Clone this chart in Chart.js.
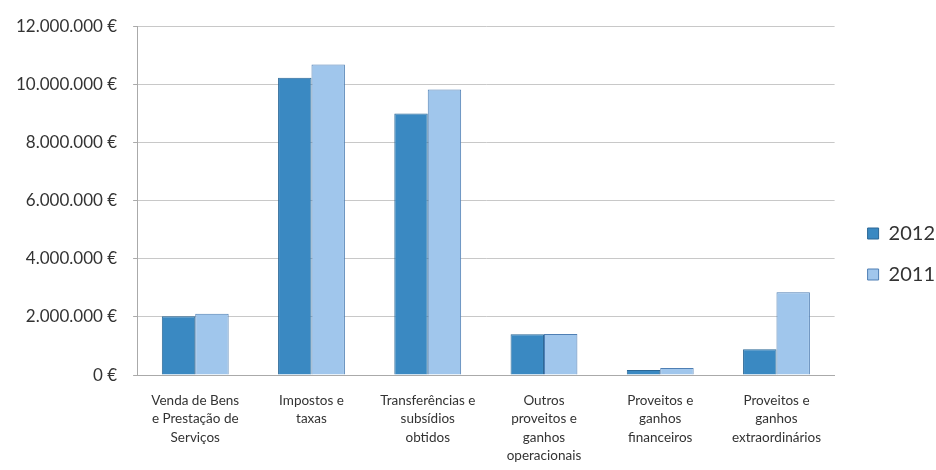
<!DOCTYPE html>
<html lang="pt">
<head>
    <meta charset="UTF-8">
    <title>Proveitos 2012 / 2011</title>
    <style>
        html, body { margin: 0; padding: 0; background: #fff; }
        #wrap { width: 936px; height: 470px; }
    </style>
</head>
<body>
    <div id="wrap"><canvas id="myChart" width="936" height="470"></canvas></div>

    <script src="https://cdn.jsdelivr.net/npm/chart.js@4.4.1/dist/chart.umd.min.js"></script>
    <script>
        // categories (multi-line as in the original)
        var categories = [
            ["Venda de Bens", "e Prestação de", "Serviços"],
            ["Impostos e", "taxas"],
            ["Transferências e", "subsídios", "obtidos"],
            ["Outros", "proveitos e", "ganhos", "operacionais"],
            ["Proveitos e", "ganhos", "financeiros"],
            ["Proveitos e", "ganhos", "extraordinários"]
        ];

        // values (euros)
        var values2012 = [2020000, 10230000, 9000000, 1400000, 170000, 890000];
        var values2011 = [2110000, 10680000, 9820000, 1410000, 240000, 2850000];

        var seriesLabels = ["2012", "2011"];

        function euro(v) {
            return String(v).replace(/\B(?=(\d{3})+(?!\d))/g, ".") + " €";
        }

        // nudge the legend a bit lower / further right, like the original
        var legendNudge = {
            id: "legendNudge",
            afterLayout: function (chart) {
                var lg = chart.legend;
                lg.top += 5; lg.bottom += 5;
                lg.left += 12; lg.right += 12;
            }
        };

        var ctx = document.getElementById("myChart").getContext("2d");
        var chart = new Chart(ctx, {
            type: "bar",
            data: {
                labels: categories,
                datasets: [
                    {
                        label: seriesLabels[0],
                        data: values2012,
                        backgroundColor: "#3a89c2",
                        borderColor: "#2a6796",
                        borderWidth: 1
                    },
                    {
                        label: seriesLabels[1],
                        data: values2011,
                        backgroundColor: "#a0c6ec",
                        borderColor: "#4f7fb4",
                        borderWidth: 1
                    }
                ]
            },
            plugins: [legendNudge],
            options: {
                responsive: false,
                animation: false,
                layout: { padding: { top: 17, left: 0, right: 3, bottom: -11 } },
                datasets: { bar: { barPercentage: 1, categoryPercentage: 0.575 } },
                plugins: {
                    tooltip: { enabled: false },
                    legend: {
                        position: "right",
                        labels: {
                            boxWidth: 11,
                            boxHeight: 11,
                            padding: 21,
                            color: "#333",
                            font: { family: "Lato", size: 20 }
                        }
                    }
                },
                scales: {
                    x: {
                        grid: { display: false, drawTicks: false },
                        border: { color: "#aaa" },
                        ticks: {
                            maxRotation: 0,
                            autoSkip: false,
                            padding: 16,
                            color: "#333",
                            font: { family: "Lato", size: 13.5, lineHeight: 1.37 }
                        }
                    },
                    y: {
                        min: 0,
                        max: 12000000,
                        grid: { color: "#c8c8c8", tickLength: 4, tickColor: "#aaa" },
                        border: { color: "#aaa" },
                        ticks: {
                            stepSize: 2000000,
                            padding: 16,
                            color: "#333",
                            font: { family: "Lato", size: 17 },
                            callback: function (v) { return euro(v); }
                        }
                    }
                }
            }
        });
    </script>
</body>
</html>
